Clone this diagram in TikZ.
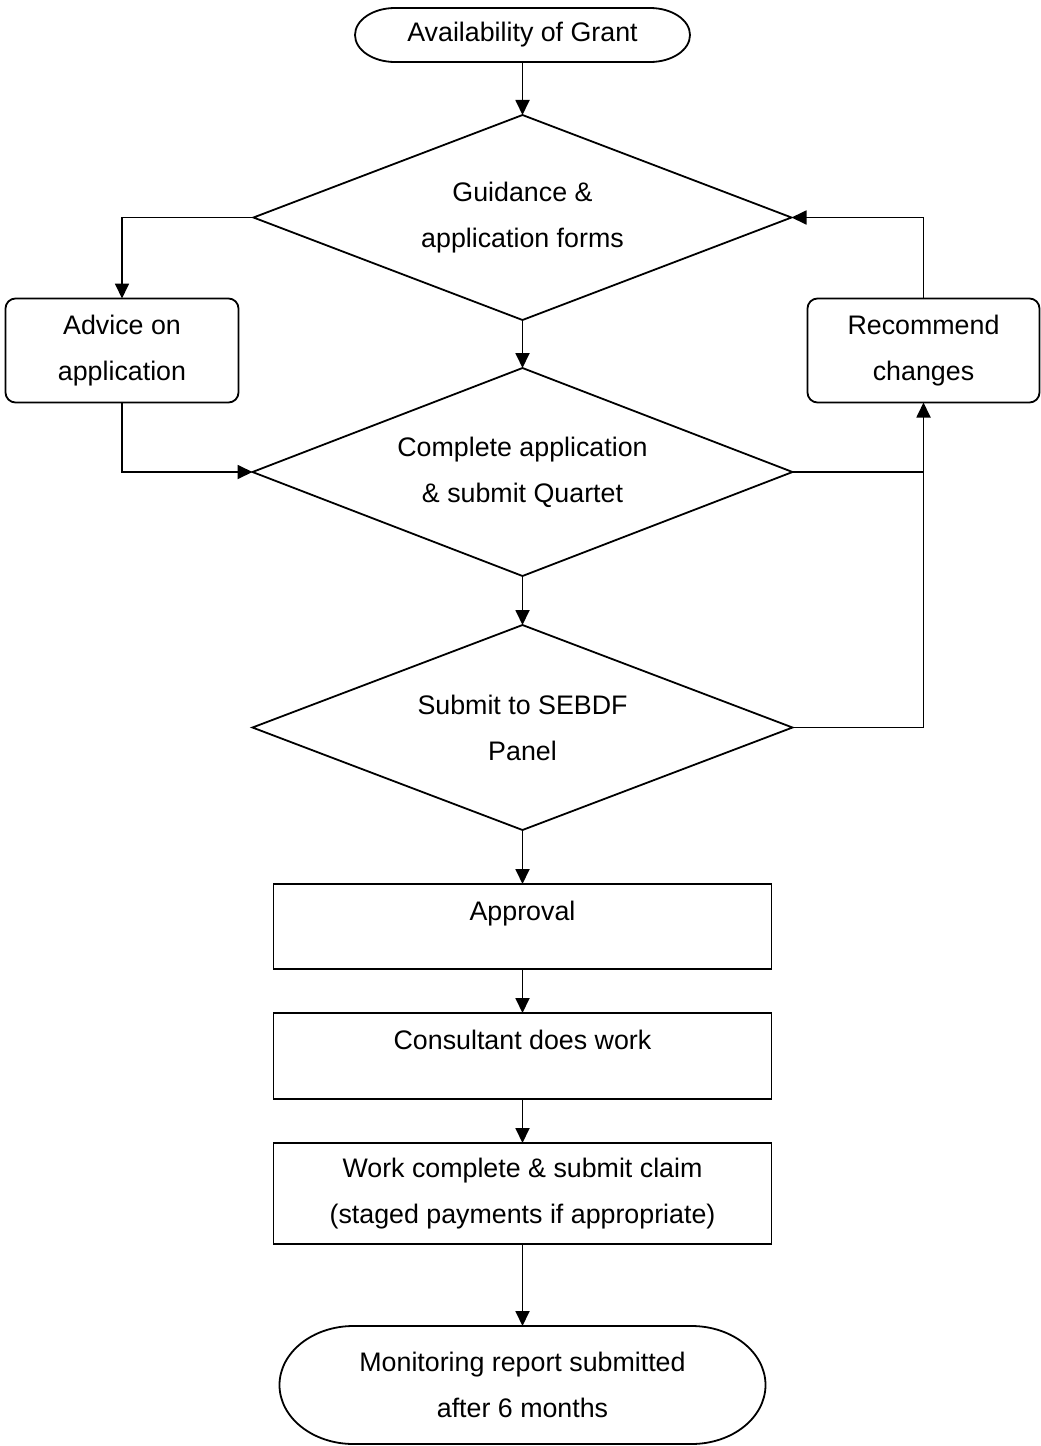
\documentclass[tikz,border=0pt]{standalone}
\usepackage{fontspec}
\setmainfont{Liberation Sans}
\usepackage{tikz}
\usetikzlibrary{arrows.meta}
\usetikzlibrary{positioning}
\usetikzlibrary{shapes.geometric}

% outline of a terminal box with flat elliptic ends
\newcommand{\termline}[3]{%
  \draw[-] ([xshift=#2]#1.north west) -- ([xshift=-#2]#1.north east)
    arc[start angle=90,end angle=-90,x radius=#2,y radius=#3]
    -- ([xshift=#2]#1.south west)
    arc[start angle=270,end angle=90,x radius=#2,y radius=#3] -- cycle;}

\begin{document}
\begin{tikzpicture}[->,>={Triangle[length=7.5pt,width=7pt]},line width=0.9pt,
                    font=\fontsize{13.4pt}{23pt}\selectfont]
 \tikzstyle{every node}=[align=center, text=black, outer sep=0pt]
 \tikzstyle{term}=[inner sep=0pt]
 \tikzstyle{decision}=[draw, shape=diamond, shape aspect=2.6, inner sep=0pt]
 \tikzstyle{side}=[draw, shape=rectangle, rounded corners=5pt, minimum width=116.5pt, minimum height=52pt]
 \tikzstyle{stage}=[draw, shape=rectangle, minimum width=249pt]
 \tikzstyle{toptext}=[text height=10pt, text depth=16.5pt]
 \useasboundingbox (0,0) rectangle (520pt,-723pt);
  \node[term, minimum width=167.5pt, minimum height=27pt] (grant) at (261.25pt,-17.5pt) {Availability of Grant};
  \node[decision, minimum width=269pt, minimum height=102.5pt] (guide) [below=26.5pt of grant] {Guidance \&\\ application forms};
  \node[decision, minimum width=270pt, minimum height=104pt] (complete) [below=24pt of guide] {Complete application\\ \& submit Quartet};
  \node[decision, minimum width=270pt, minimum height=102.5pt] (panel) [below=24.5pt of complete] {Submit to SEBDF\\ Panel};
  \node[side] (advice) [below left=40.5pt and 7.5pt of guide.west] {Advice on\\ application};
  \node[side, minimum width=116pt] (recommend) [below right=40.5pt and 8pt of guide.east] {Recommend\\ changes};
  \node[stage, toptext, minimum height=42.5pt] (approval) [below=27pt of panel] {Approval};
  \node[stage, toptext, minimum height=43pt] (consultant) [below=22pt of approval] {Consultant does work};
  \node[stage, minimum height=50.5pt] (claim) [below=22pt of consultant] {Work complete \& submit claim\\ (staged payments if appropriate)};
  \node[term, minimum width=243pt, minimum height=59pt] (monitor) [below=41pt of claim] {Monitoring report submitted\\ after 6 months};
  \termline{grant}{20pt}{13.5pt}
  \termline{monitor}{37pt}{29.5pt}
\path (grant) edge (guide)
      (guide) edge (complete)
      (complete) edge (panel)
      (panel) edge (approval)
      (approval) edge (consultant)
      (consultant) edge (claim)
      (claim) edge (monitor);
\draw (guide.west) -| (advice.north);
\draw (advice.south) |- (complete.west);
\draw (complete.east) -| (recommend.south);
\draw (recommend.north) |- (guide.east);
\coordinate (join) at (complete.east -| recommend.south);
\draw[-] (panel.east) -| (join);
\end{tikzpicture}
\end{document}
